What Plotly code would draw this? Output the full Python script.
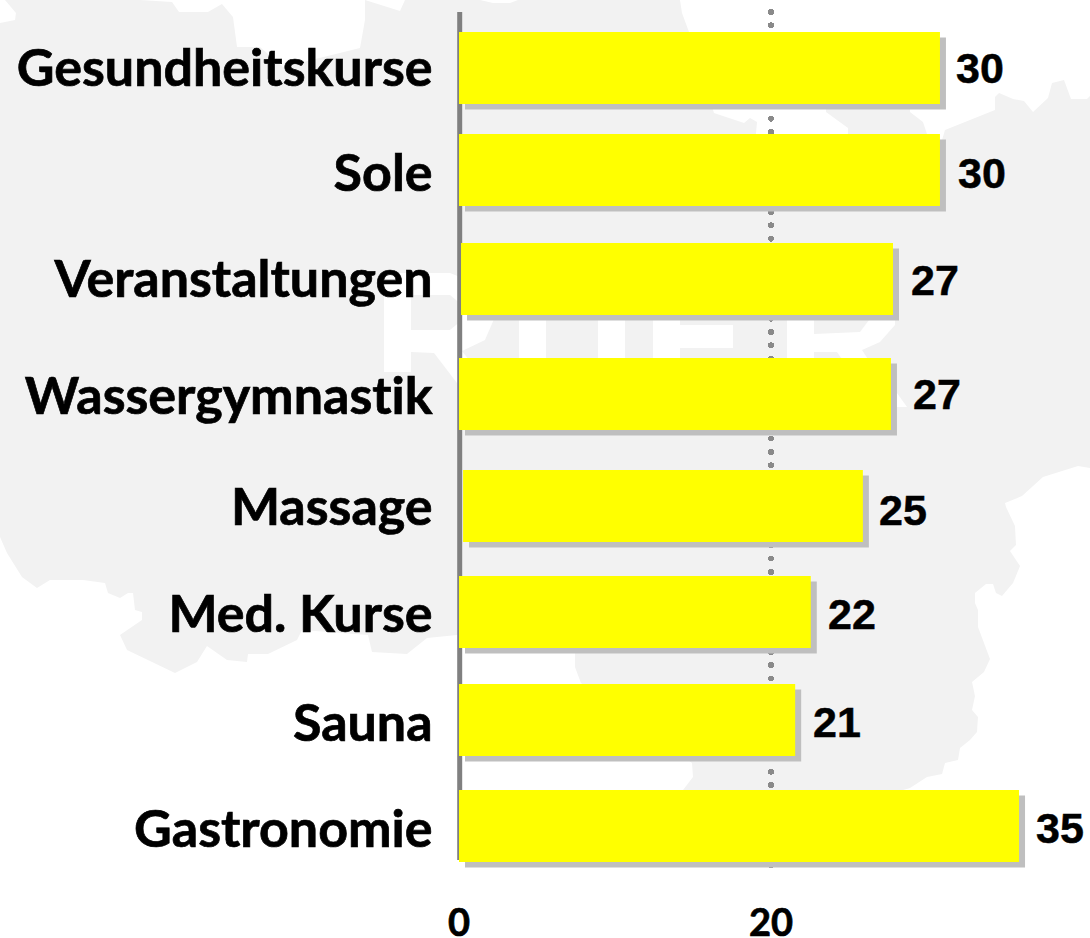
import plotly.graph_objects as go

# ---- data ----
categories = ["Gesundheitskurse", "Sole", "Veranstaltungen", "Wassergymnastik",
              "Massage", "Med. Kurse", "Sauna", "Gastronomie"]
bar_ends = [30.83, 30.83, 27.82, 27.69, 25.89, 22.55, 21.55, 35.9]
value_labels = ["30", "30", "27", "27", "25", "22", "21", "35"]
x_ticks = [0, 20]
x_tick_labels = ["0", "20"]

# ---- layout of the rows (the reference's rows are not evenly spaced) ----
row_pos = [0, 0.942, 1.948, 3.010, 4.045, 5.024, 6.021, 7.0]
tick_dy = [0, 3, 0, 2, 1, 2, 3, 3]
bar_base = [0, 0, 0.13, 0, 0.26, 0, 0, 0]
label_gap = [16, 18, 18, 22, 16, 17, 18, 17]
label_dy = [0, 3, 1, 0, 4, 2, 2, 2]

W, H = 1090, 938
LEFT, TOP, BOTTOM = 459, 12, 868
PX_PER_X = 15.6
PX_PER_ROW = 108.29
ROW0_PX = 68
SHADOW_DX, SHADOW_DY = 6, 5.5
x_range = [0, (W - LEFT) / PX_PER_X]
y_range = [(BOTTOM - ROW0_PX) / PX_PER_ROW, (TOP - ROW0_PX) / PX_PER_ROW]
tick_pos = [r + d / PX_PER_ROW for r, d in zip(row_pos, tick_dy)]


def fx(p):
    return (p - LEFT) / (W - LEFT)


def fy(p):
    return (BOTTOM - p) / (BOTTOM - TOP)


def path(pts):
    return "M" + " L".join(f"{fx(a):.4f},{fy(b):.4f}" for a, b in pts) + " Z"


# Decorative map silhouette behind the chart (not data)
map_outline = [
    (0, 23), (15, 20), (16, 13), (5, 0), (140, 0), (172, 2), (179, 12), (208, 12), (222, 4),
    (233, 17), (237, 47), (260, 47), (283, 67), (360, 48), (365, 20), (365, 0), (400, 11),
    (405, 0), (480, 0), (493, 3), (510, 3), (518, 0), (680, 0), (682, 13), (689, 32), (714, 113),
    (744, 123), (750, 118), (757, 122), (756, 133), (760, 180), (848, 180), (848, 128),
    (826, 112), (826, 95), (910, 95), (910, 112), (923, 122), (927, 134), (935, 160),
    (942, 140), (945, 130), (995, 110), (995, 97), (999, 93), (1013, 99), (1024, 101),
    (1033, 112), (1048, 98), (1052, 83), (1064, 80), (1071, 99), (1087, 99), (1090, 96),
    (1090, 468), (1078, 466), (1043, 477), (1022, 496), (1005, 503), (1006, 507), (1015, 526),
    (1016, 545), (1010, 551), (1020, 566), (1013, 583), (1002, 596), (996, 593), (993, 584),
    (986, 584), (975, 593), (975, 603), (978, 610), (978, 627), (990, 659), (984, 672),
    (972, 682), (975, 696), (972, 710), (978, 717), (977, 732), (970, 740), (960, 748),
    (958, 760), (945, 763), (942, 774), (927, 777), (910, 788), (800, 820), (683, 790),
    (693, 777), (692, 763), (581, 683), (575, 667), (575, 653), (520, 633), (457, 635),
    (427, 638), (407, 654), (372, 652), (368, 635), (302, 630), (297, 640), (268, 654),
    (248, 654), (247, 662), (227, 660), (207, 646), (197, 662), (175, 673), (127, 650),
    (120, 635), (142, 620), (142, 612), (135, 610), (133, 593), (128, 593), (120, 598),
    (108, 593), (105, 583), (83, 580), (50, 580), (37, 588), (22, 577), (7, 553), (0, 537),
]
# White logo lettering in the silhouette, largely hidden by the bars
logo_white = [
    [(384, 273), (450, 273), (480, 285), (494, 319), (485, 340), (462, 351), (500, 400), (470, 400),
     (434, 353), (411, 352), (411, 372), (384, 372)],
    [(519, 300), (546, 300), (546, 372), (519, 372)],
    [(598, 300), (625, 300), (625, 372), (598, 372)],
    [(653, 300), (680, 300), (680, 372), (653, 372)],
    [(680, 325), (733, 325), (733, 348), (680, 348)],
    [(787, 300), (860, 300), (895, 312), (895, 325), (880, 342), (862, 350), (885, 385), (860, 385),
     (837, 352), (814, 352), (814, 372), (787, 372)],
    [(890, 385), (897, 393), (907, 407), (890, 407)],
]
logo_gray = [
    [(411, 295), (450, 295), (462, 305), (462, 320), (450, 330), (411, 330)],
    [(814, 310), (860, 310), (869, 320), (860, 332), (814, 334)],
]
MAP_GRAY = "#f2f2f2"
shapes = [dict(type="path", xref="paper", yref="paper", path=path(map_outline),
               fillcolor=MAP_GRAY, line_width=0, layer="below")]
shapes += [dict(type="path", xref="paper", yref="paper", path=path(p),
                fillcolor="white", line_width=0, layer="below") for p in logo_white]
shapes += [dict(type="path", xref="paper", yref="paper", path=path(p),
                fillcolor=MAP_GRAY, line_width=0, layer="below") for p in logo_gray]
# vertical axis line (ends short of the plot's lower edge, which leaves room for the last shadow)
shapes.append(dict(type="line", xref="paper", yref="paper", layer="below",
                   x0=fx(459.7), x1=fx(459.7), y0=fy(12), y1=fy(860),
                   line=dict(color="#808080", width=5)))

lengths = [e - b for e, b in zip(bar_ends, bar_base)]

fig = go.Figure()
# invisible carrier so the main axes (ticks, grid) exist
fig.add_trace(go.Bar(y=row_pos, x=[0] * len(row_pos), orientation="h", marker_opacity=0,
                     hoverinfo="skip", showlegend=False))
fig.add_trace(go.Bar(y=row_pos, x=lengths, base=bar_base, orientation="h", width=0.665,
                     marker=dict(color="#bfbfbf", line_width=0), xaxis="x2", yaxis="y2",
                     cliponaxis=False, showlegend=False))
fig.add_trace(go.Bar(y=row_pos, x=lengths, base=bar_base, orientation="h", width=0.665,
                     marker=dict(color="#ffff00", line_width=0), xaxis="x3", yaxis="y3",
                     cliponaxis=False, showlegend=False))

annotations = [
    dict(x=e, y=r, xref="x3", yref="y3", text=f"<b>{t}</b>", showarrow=False, xanchor="left",
         xshift=g - 1, yshift=-d, font=dict(family="Liberation Sans", size=43, color="black"),
         borderpad=0)
    for e, r, t, g, d in zip(bar_ends, row_pos, value_labels, label_gap, label_dy)
]

shift_x = SHADOW_DX / PX_PER_X
shift_y = SHADOW_DY / PX_PER_ROW
fig.update_layout(
    template="none",
    width=W, height=H, autosize=False,
    margin=dict(l=LEFT, r=0, t=TOP, b=H - BOTTOM, pad=0),
    paper_bgcolor="white", plot_bgcolor="rgba(0,0,0,0)",
    barmode="overlay", showlegend=False, shapes=shapes, annotations=annotations,
    xaxis=dict(range=x_range, tickmode="array", tickvals=x_ticks, ticktext=x_tick_labels,
               automargin=False,
               showgrid=True, griddash="0px,13.33px", gridcolor="#8a8a8a", gridwidth=6,
               zeroline=False, showline=False, ticks="outside", ticklen=21,
               tickcolor="rgba(0,0,0,0)",
               tickfont=dict(family="Lato", size=38, color="black", weight="bold")),
    yaxis=dict(range=y_range, tickmode="array", tickvals=tick_pos, ticktext=categories,
               automargin=False,
               showgrid=False, zeroline=False, showline=False,
               ticks="outside", ticklen=15, tickcolor="rgba(0,0,0,0)",
               tickfont=dict(family="Lato", size=52, color="black", weight="bold")),
    xaxis2=dict(range=[x_range[0] - shift_x, x_range[1] - shift_x], overlaying="x", visible=False),
    yaxis2=dict(range=[y_range[0] - shift_y, y_range[1] - shift_y], overlaying="y", visible=False),
    xaxis3=dict(range=x_range, overlaying="x", visible=False),
    yaxis3=dict(range=y_range, overlaying="y", visible=False),
)
page_css = ("document.body.style.margin='0';"
            "var s=document.createElement('style');"
            "s.textContent='.xtick text,.ytick text{font-variant-ligatures:none !important;"
            "font-feature-settings:\"liga\" 0,\"clig\" 0,\"calt\" 0 !important;"
            "stroke:#000;stroke-width:0.7px}"
            ".annotation-text{stroke:#000;stroke-width:0.5px}"
            ".xgrid,.crisp.xgrid{stroke-linecap:round}';"
            "document.head.appendChild(s);")
fig.write_html("out.html", config=dict(displayModeBar=False), post_script=page_css)
